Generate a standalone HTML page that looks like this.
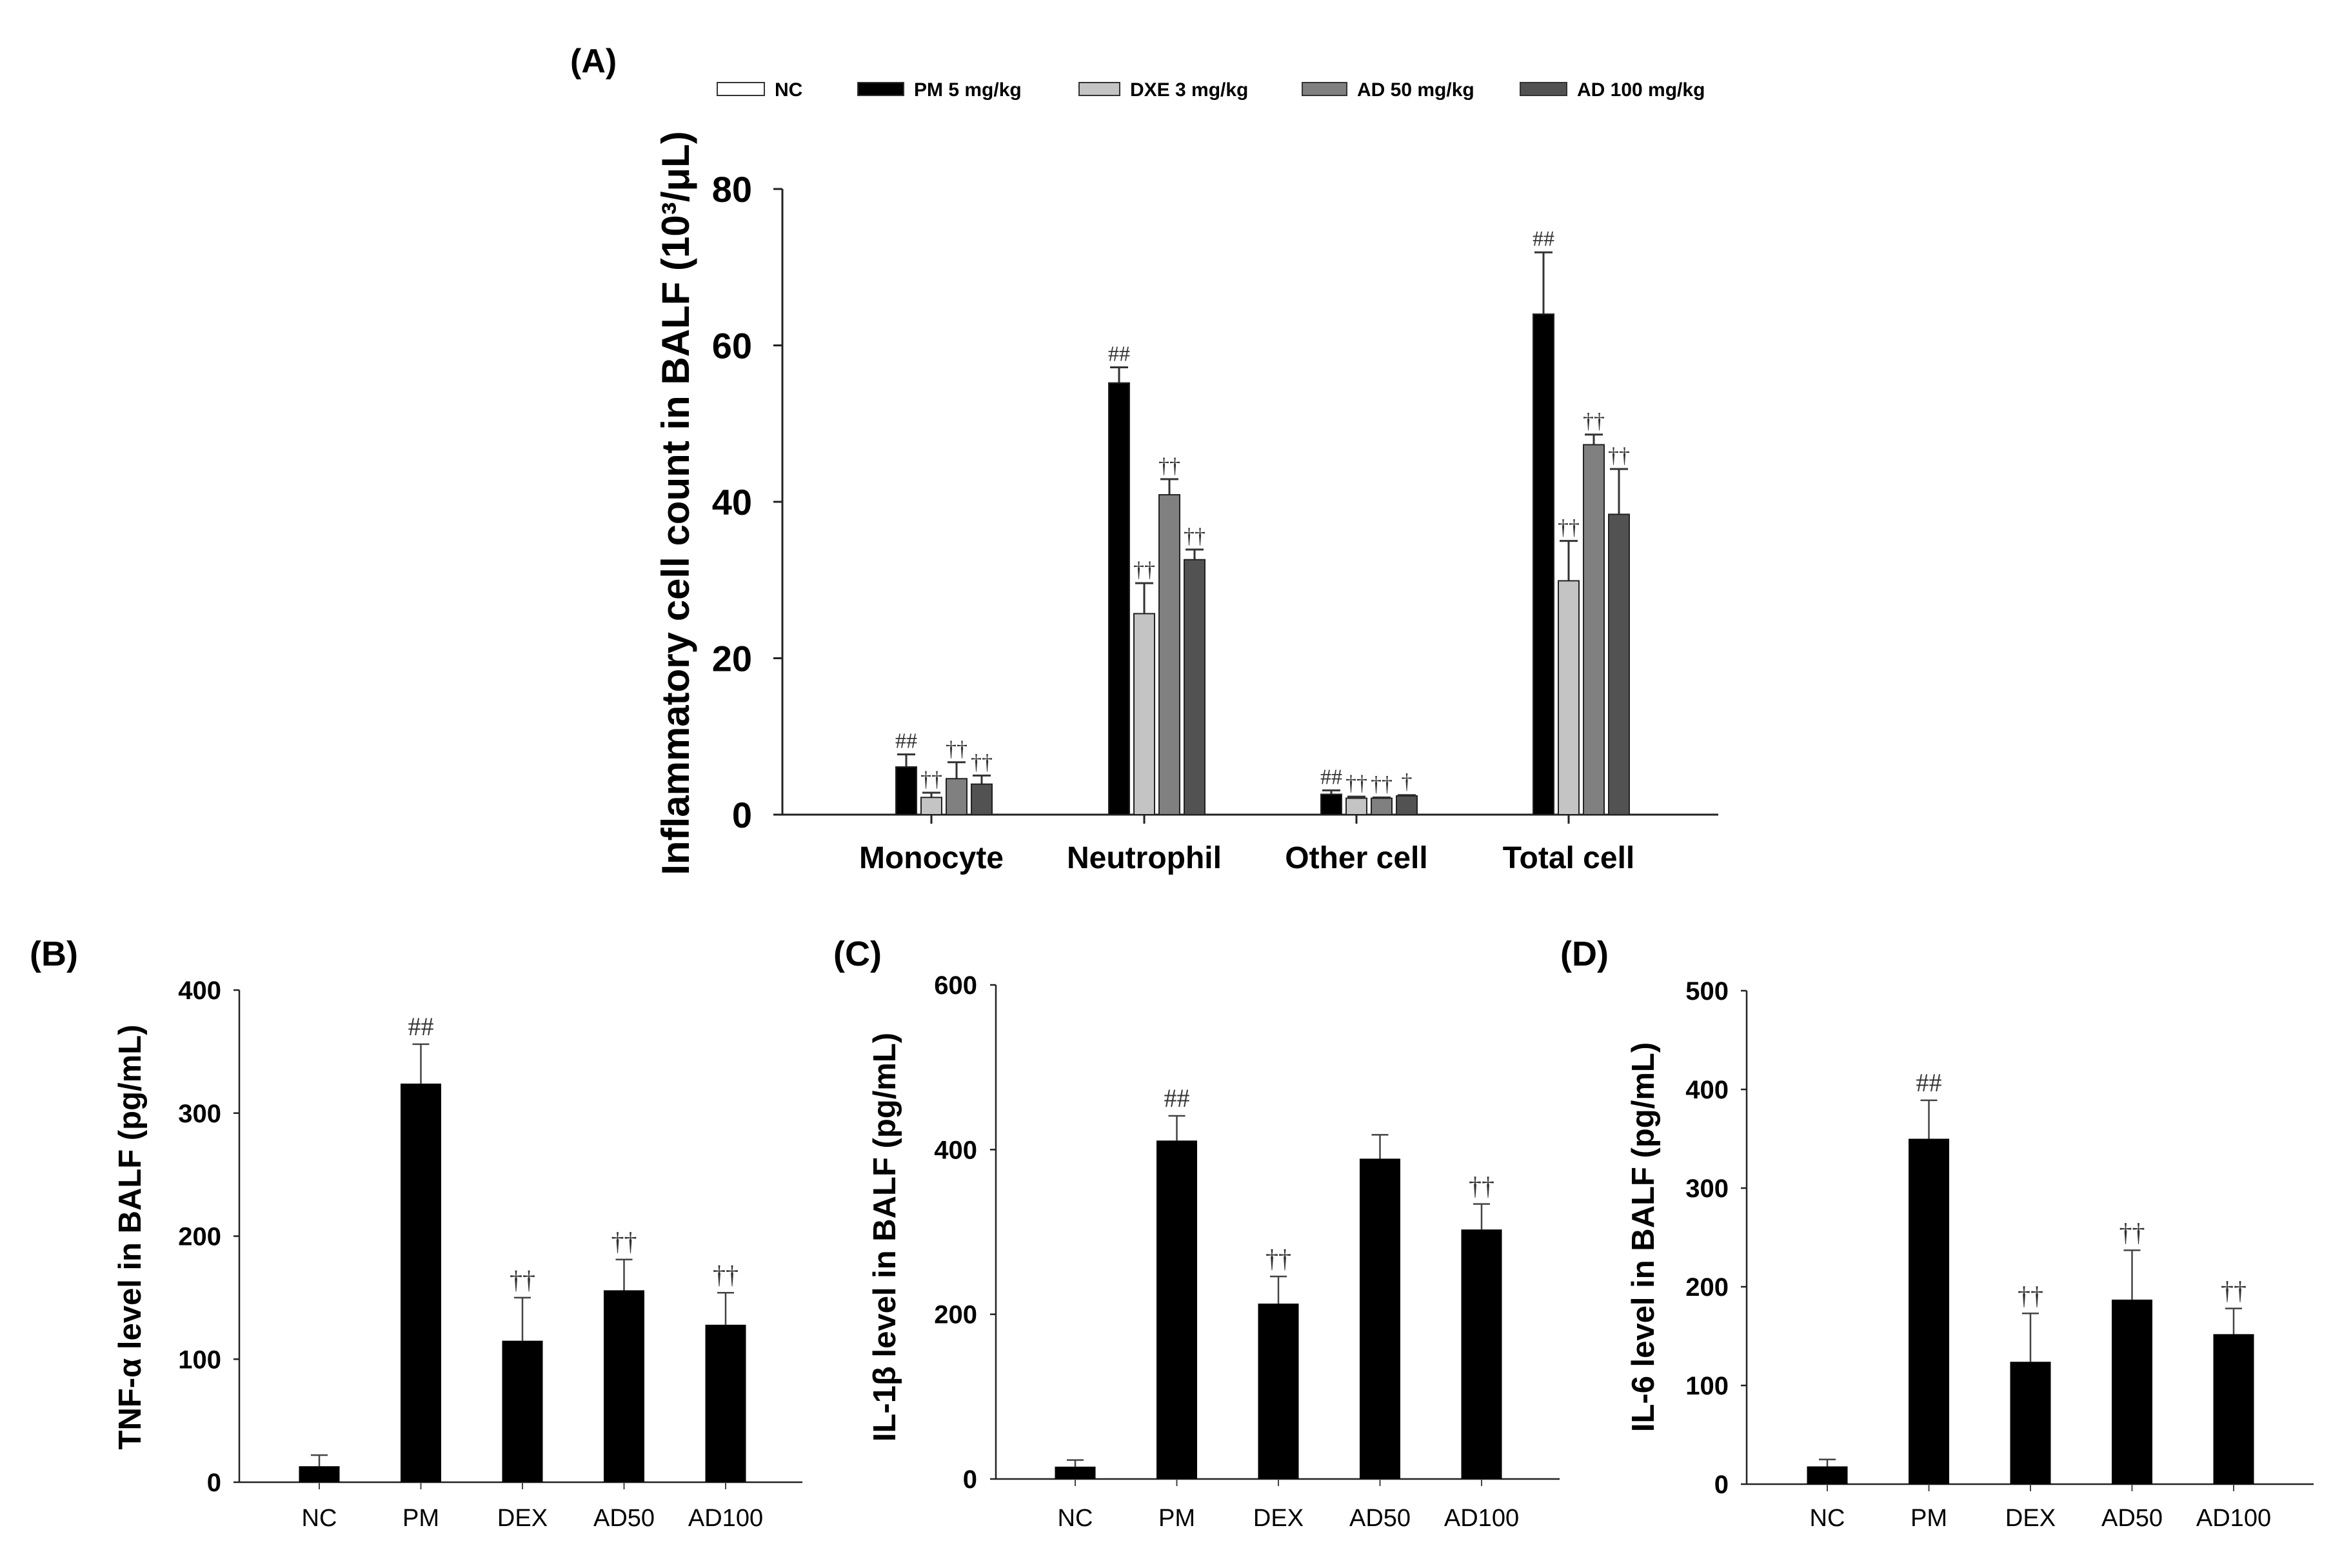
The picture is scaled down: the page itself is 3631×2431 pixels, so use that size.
<!DOCTYPE html>
<html><head><meta charset="utf-8"><style>
html,body{margin:0;padding:0;background:#fff;}
svg{display:block;}
text{font-family:"Liberation Sans",Arial,sans-serif;}
.ser{font-family:"Liberation Serif","DejaVu Serif",serif;}
</style></head><body>
<svg id="fig" width="3631" height="2431" viewBox="0 0 3631 2431" xmlns="http://www.w3.org/2000/svg"></svg>
<script>
// ---------- Panel A data ----------
const aCategories = ["Monocyte","Neutrophil","Other cell","Total cell"];
const aSeries = ["NC","PM 5 mg/kg","DXE 3 mg/kg","AD 50 mg/kg","AD 100 mg/kg"];
const aNC    = [0,0,0,0];
const aPM    = [6.1,55.2,2.6,64.0];
const aDXE   = [2.2,25.7,2.1,29.9];
const aAD50  = [4.6,40.9,2.1,47.3];
const aAD100 = [3.9,32.6,2.4,38.4];
const aNCerr    = [0,0,0,0];
const aPMerr    = [7.7,57.2,3.1,71.9];
const aDXEerr   = [2.8,29.6,2.3,35.0];
const aAD50err  = [6.7,42.9,2.2,48.6];
const aAD100err = [5.0,33.9,2.5,44.2];
const aPMmark    = ["##","##","##","##"];
const aDXEmark   = ["††","††","††","††"];
const aAD50mark  = ["††","††","††","††"];
const aAD100mark = ["††","††","†","††"];
const aTicks = [0,20,40,60,80];
// ---------- Panels B-D data ----------
const groups = ["NC","PM","DEX","AD50","AD100"];
const bValues = [13,324,115,156,128];
const bErr    = [22,356,150,181,154];
const bMarks  = ["","##","††","††","††"];
const bTicks  = [0,100,200,300,400];
const cValues = [15,411,213,389,303];
const cErr    = [23,441,246,418,334];
const cMarks  = ["","##","††","","††"];
const cTicks  = [0,200,400,600];
const dValues = [18,350,124,187,152];
const dErr    = [25,389,173,237,178];
const dMarks  = ["","##","††","††","††"];
const dTicks  = [0,100,200,300,400,500];

const NS="http://www.w3.org/2000/svg";
const svg=document.getElementById('fig');
function mk(tag,attrs,parent){const e=document.createElementNS(NS,tag);for(const k in attrs)e.setAttribute(k,attrs[k]);(parent||svg).appendChild(e);return e;}
function tx(str,attrs,parent){const e=mk('text',attrs,parent);e.textContent=str;return e;}

// ================= Panel A =================
(function(){
  const g=mk('g',{});
  
  
  const x0=1213,x1=2664,y0=1263,yTop=293,vmax=80;
  const ys=v=>y0-(v/vmax)*(y0-yTop);
  const centers=[1444,1774,2103,2432];
  const pitch=39,bw=32;
  const colors=["#ffffff","#000000","#c4c4c4","#808080","#525252"];
  const vals=[aNC,aPM,aDXE,aAD50,aAD100];
  const errs=[aNCerr,aPMerr,aDXEerr,aAD50err,aAD100err];
  const marks=[null,aPMmark,aDXEmark,aAD50mark,aAD100mark];
  let t=tx('(A)',{x:884,y:112,'font-size':52,'font-weight':'bold'},g);
  
  const lx=[1112,1330,1673,2019,2357];
  const lw=[73,71,63,69,72];
  aSeries.forEach((s,i)=>{
    const lg=mk('g',{},g);
    
    
    mk('rect',{x:lx[i],y:128,width:lw[i],height:20,fill:colors[i],stroke:'#333','stroke-width':2},lg);
    tx(s,{x:lx[i]+lw[i]+16,y:149,'font-size':30,'font-weight':'bold'},lg);
  });
  let ax=mk('line',{x1:x0,y1:yTop,x2:x0,y2:y0,stroke:'#222','stroke-width':3},g);
  
  ax=mk('line',{x1:x0-2,y1:y0,x2:x1,y2:y0,stroke:'#222','stroke-width':3},g);
  
  aTicks.forEach(v=>{
    mk('line',{x1:x0-14,y1:ys(v),x2:x0,y2:ys(v),stroke:'#222','stroke-width':3},g);
    const l=tx(String(v),{x:1166,y:ys(v)+20,'font-size':56,'font-weight':'bold','text-anchor':'end'},g);
    
  });
  aCategories.forEach((c,ci)=>{
    mk('line',{x1:centers[ci],y1:y0,x2:centers[ci],y2:y0+14,stroke:'#222','stroke-width':3},g);
    const l=tx(c,{x:centers[ci],y:1346,'font-size':48,'font-weight':'bold','text-anchor':'middle'},g);
    
    for(let s=0;s<5;s++){
      const cx=centers[ci]+(s-2)*pitch;
      const v=vals[s][ci];
      if(v<=0)continue;
      const e=errs[s][ci];
      mk('line',{x1:cx,y1:ys(e),x2:cx,y2:ys(v),stroke:'#333','stroke-width':3},g);
      mk('line',{x1:cx-14,y1:ys(e),x2:cx+14,y2:ys(e),stroke:'#333','stroke-width':3},g);
      const r=mk('rect',{x:cx-bw/2,y:ys(v),width:bw,height:y0-ys(v),fill:colors[s],stroke:'#222','stroke-width':2},g);
      
      
      if(marks[s]){const m=tx(marks[s][ci],{x:cx,y:ys(e)-10,'font-size':34,'text-anchor':'middle',fill:'#333',class:'ser'},g);
        }
    }
  });
  const yt=tx('Inflammatory cell count in BALF (10³/μL)',{x:0,y:0,'font-size':60,'font-weight':'bold','text-anchor':'middle',transform:'translate(1068,780) rotate(-90)'},g);
  
})();

// ================= Panels B-D =================
function smallPanel(cfg){
  const g=mk('g',{});
  
  
  const ys=v=>cfg.y0-(v/cfg.vmax)*(cfg.y0-cfg.yTop);
  let t=tx(cfg.label,{x:cfg.lx,y:1497,'font-size':54,'font-weight':'bold'},g);
  
  let ax=mk('line',{x1:cfg.x0,y1:cfg.yTop,x2:cfg.x0,y2:cfg.y0,stroke:'#222','stroke-width':2.5},g);
  
  ax=mk('line',{x1:cfg.x0,y1:cfg.y0,x2:cfg.x1,y2:cfg.y0,stroke:'#222','stroke-width':2.5},g);
  
  cfg.ticks.forEach(v=>{
    mk('line',{x1:cfg.x0-9,y1:ys(v),x2:cfg.x0,y2:ys(v),stroke:'#222','stroke-width':2.5},g);
    const l=tx(String(v),{x:cfg.tickRight,y:ys(v)+14,'font-size':40,'font-weight':'bold','text-anchor':'end'},g);
    
  });
  const pitch=157.5,bw=63;
  groups.forEach((name,i)=>{
    const cx=cfg.c0+i*pitch;
    const v=cfg.values[i],e=cfg.err[i];
    mk('line',{x1:cx,y1:cfg.y0,x2:cx,y2:cfg.y0+11,stroke:'#444','stroke-width':2},g);
    mk('line',{x1:cx,y1:ys(e),x2:cx,y2:ys(v),stroke:'#444','stroke-width':2.5},g);
    mk('line',{x1:cx-13,y1:ys(e),x2:cx+13,y2:ys(e),stroke:'#444','stroke-width':2.5},g);
    const r=mk('rect',{x:cx-bw/2,y:ys(v),width:bw,height:cfg.y0-ys(v),fill:'#000'},g);
    
    
    const l=tx(name,{x:cx,y:2366,'font-size':38,'text-anchor':'middle'},g);
    
    if(cfg.marks[i]){const m=tx(cfg.marks[i],{x:cx,y:ys(e)-14,'font-size':40,'text-anchor':'middle',fill:'#333',class:'ser'},g);
      }
  });
  const yt=tx(cfg.title,{x:0,y:0,'font-size':49,'font-weight':'bold','text-anchor':'middle',transform:'translate('+(cfg.tx+17)+',1918) rotate(-90)'},g);
  
}
smallPanel({name:'panel-b',label:'(B)',lx:46,x0:371,x1:1244,y0:2298,yTop:1535,vmax:400,ticks:bTicks,tickRight:343,c0:495,values:bValues,err:bErr,marks:bMarks,title:'TNF-α level in BALF (pg/mL)',tx:201});
smallPanel({name:'panel-c',label:'(C)',lx:1292,x0:1544,x1:2418,y0:2293,yTop:1527,vmax:600,ticks:cTicks,tickRight:1515,c0:1667,values:cValues,err:cErr,marks:cMarks,title:'IL-1β level in BALF (pg/mL)',tx:1371});
smallPanel({name:'panel-d',label:'(D)',lx:2419,x0:2708,x1:3587,y0:2301,yTop:1536,vmax:500,ticks:dTicks,tickRight:2680,c0:2833,values:dValues,err:dErr,marks:dMarks,title:'IL-6 level in BALF (pg/mL)',tx:2547});
</script>
</body></html>
